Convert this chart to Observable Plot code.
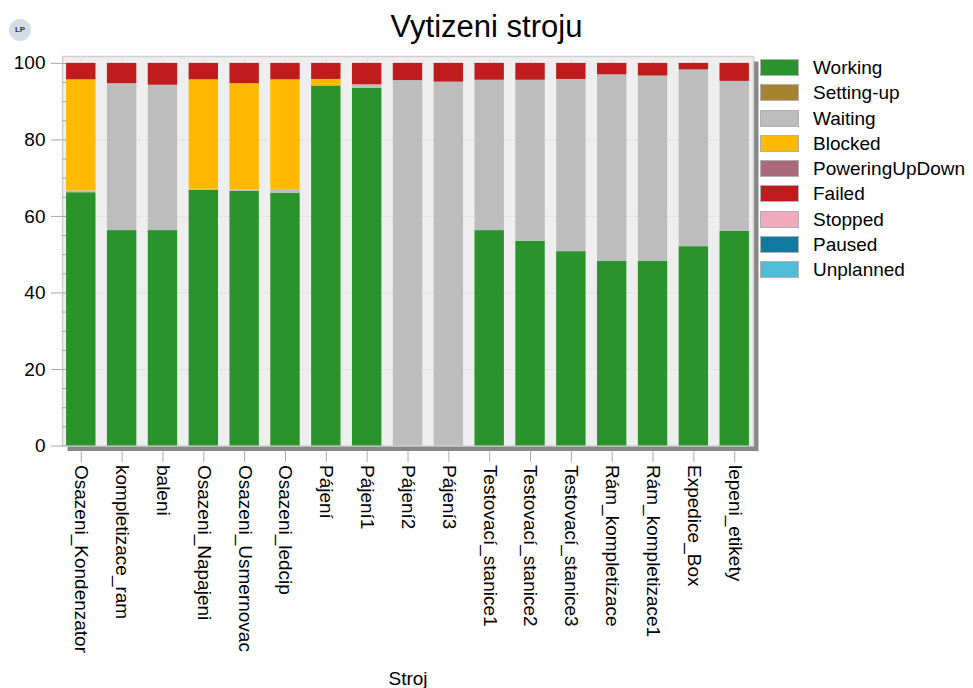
<!DOCTYPE html>
<html>
<head>
<meta charset="utf-8">
<script src="https://cdn.jsdelivr.net/npm/d3@7"></script>
<script src="https://cdn.jsdelivr.net/npm/@observablehq/plot@0.6"></script>
<style>
  body { margin: 0; background: #fff; font-family: "Liberation Sans", Arial, sans-serif; }
  #wrap { position: relative; width: 973px; height: 688px; overflow: hidden; }
  #title { position: absolute; left: 0; width: 973px; top: 9px; text-align: center; font-size: 31px; color: #000; }
  #logo { position: absolute; left: 9px; top: 19px; width: 22px; height: 22px; border-radius: 50%; background: #d5dde4; color: #2b3a47; font-size: 8px; font-weight: bold; text-align: center; line-height: 22px; }
  #legend { position: absolute; left: 760px; top: 59px; }
  .row { position: relative; height: 25.25px; }
  .sw { position: absolute; left: 0; top: 0; width: 39px; height: 17px; border: 1px solid #b0b0b0; box-sizing: border-box; }
  .lab { position: absolute; left: 53px; top: -2px; font-size: 19px; color: #000; white-space: nowrap; }
  #chart { position: absolute; left: 0; top: 0; }
</style>
</head>
<body>
<div id="wrap">
  <div id="chart"></div>
  <div id="logo">LP</div>
  <div id="title">Vytizeni stroju</div>
  <div id="legend"></div>
</div>
<script>
const machines = ["Osazeni_Kondenzator","kompletizace_ram","baleni","Osazeni_Napajeni","Osazeni_Usmernovac","Osazeni_ledcip","Pájení","Pájení1","Pájení2","Pájení3","Testovací_stanice1","Testovací_stanice2","Testovací_stanice3","Rám_kompletizace","Rám_kompletizace1","Expedice_Box","lepeni_etikety"];
const states = ["Working","Setting-up","Waiting","Blocked","PoweringUpDown","Failed","Stopped","Paused","Unplanned"];
const stateColors = ["#2b932c","#a6832f","#bdbdbd","#ffb900","#ab697e","#c11c1d","#f0a9bd","#10799f","#50bcd8"];

const working        = [66.2, 56.3, 56.3, 66.8, 66.6, 66.0, 94.1, 93.5, 0,    0,    56.3, 53.5, 50.8, 48.3, 48.3, 52.1, 56.1];
const settingUp      = [0,0,0,0,0,0,0,0,0,0,0,0,0,0,0,0,0];
const waiting        = [0.5,  38.4, 38.0, 0.3,  0.3,  1.0,  0,    0.9,  95.5, 95.1, 39.3, 42.1, 45.0, 48.7, 48.4, 46.2, 39.2];
const blocked        = [29.0, 0,    0,    28.6, 27.8, 28.7, 1.7,  0,    0,    0,    0,    0,    0,    0,    0,    0,    0];
const poweringUpDown = [0,0,0,0,0,0,0,0,0,0,0,0,0,0,0,0,0];
const failed         = [4.3,  5.3,  5.7,  4.3,  5.3,  4.3,  4.2,  5.6,  4.5,  4.9,  4.4,  4.4,  4.2,  3.0,  3.3,  1.7,  4.7];
const stopped        = [0,0,0,0,0,0,0,0,0,0,0,0,0,0,0,0,0];
const paused         = [0,0,0,0,0,0,0,0,0,0,0,0,0,0,0,0,0];
const unplanned      = [0,0,0,0,0,0,0,0,0,0,0,0,0,0,0,0,0];
const yTicks = [0, 20, 40, 60, 80, 100];

const series = [working, settingUp, waiting, blocked, poweringUpDown, failed, stopped, paused, unplanned];
const table = [];
machines.forEach((m, i) => states.forEach((s, j) => table.push({machine: m, state: s, value: series[j][i]})));

const chart = Plot.plot({
  width: 973,
  height: 688,
  marginLeft: 62,
  marginRight: 220,
  marginTop: 56,
  marginBottom: 242.5,
  style: {fontFamily: "'Liberation Sans', Arial, sans-serif", background: "transparent"},
  x: {domain: machines, paddingInner: 0.28, paddingOuter: 0.1, round: false, label: null},
  y: {domain: [0, 101.8], label: null},
  color: {domain: states, range: stateColors},
  marks: [
    Plot.frame({fill: "#878787", dx: 5, dy: 5}),
    Plot.frame({fill: "#eeeeee", stroke: "#cfcfcf", strokeWidth: 1.5}),
    Plot.ruleY([20, 40, 60, 80], {stroke: "#e2e2e2"}),
    Plot.ruleX(machines, {x: d => d, stroke: "#e2e2e2"}),
    Plot.barY(table, Plot.stackY({x: "machine", y: "value", fill: "state", order: states})),
    Plot.tickY(d3.range(0, 101, 5), {y: d => d, stroke: "#a8a8a8", insetRight: 687}),
    Plot.axisY({ticks: yTicks, tickSize: 11, tickPadding: 6, fontSize: 19, stroke: "#a8a8a8", fill: "#000", label: null}),
    Plot.ruleX(machines, {x: d => d, y1: -1.5, y2: -4.3, stroke: "#a8a8a8"}),
    Plot.axisX({tickSize: 0, tickPadding: 19, tickRotate: 90, fontSize: 19, fill: "#000", label: null}),
    Plot.text(["Stroj"], {frameAnchor: "bottom", dy: 239, lineAnchor: "bottom", fontSize: 19, fill: "#000"})
  ]
});
document.getElementById("chart").appendChild(chart);

const legend = document.getElementById("legend");
states.forEach((s, i) => {
  const row = document.createElement("div");
  row.className = "row";
  row.innerHTML = `<div class="sw" style="background:${stateColors[i]}"></div><div class="lab">${s}</div>`;
  legend.appendChild(row);
});
</script>
</body>
</html>
